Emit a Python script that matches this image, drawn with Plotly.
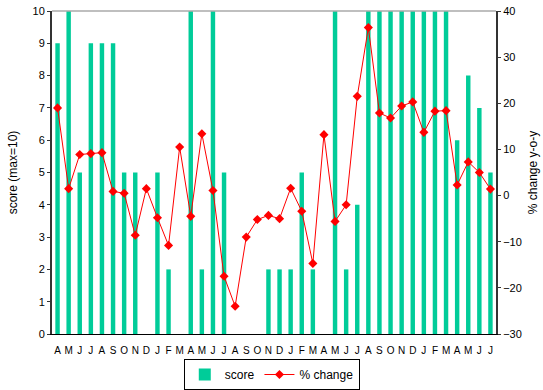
import plotly.graph_objects as go

# Month initials, April through July three years later
months = ["A", "M", "J", "J", "A", "S", "O", "N", "D", "J", "F", "M",
          "A", "M", "J", "J", "A", "S", "O", "N", "D", "J", "F", "M",
          "A", "M", "J", "J", "A", "S", "O", "N", "D", "J", "F", "M",
          "A", "M", "J", "J"]

# Monthly score (max = 10); None = no score recorded
score = [9, 10, 5, 9, 9, 9, 5, 5, None, 5, 2, None,
         10, 2, 10, 5, None, None, None, 2, 2, 2, 5, 2,
         None, 10, 2, 4, 10, 10, 10, 10, 10, 10, 10, 10,
         6, 8, 7, 5]

# Year-over-year % change
pct_change = [19.0, 1.5, 8.9, 9.1, 9.3, 0.9, 0.5, -8.6, 1.5, -4.8, -10.8, 10.5,
              -4.5, 13.4, 1.1, -17.5, -24.0, -9.0, -5.2, -4.3, -5.0, 1.6, -3.4, -14.7,
              13.2, -5.6, -2.0, 21.5, 36.4, 17.9, 16.8, 19.4, 20.3, 13.7, 18.3, 18.4,
              2.3, 7.3, 5.0, 1.4]

x = list(range(len(months)))
boundaries = [i - 0.5 for i in range(len(months) + 1)]
xr = [-0.5, len(months) - 0.5]

FONT = "Arial, Liberation Sans, sans-serif"
AXIS = "#333333"

fig = go.Figure()
fig.add_trace(go.Bar(x=x, y=score, name="score", marker_color="#00CC99",
                     marker_line_width=0, yaxis="y"))
fig.add_trace(go.Scatter(x=x, y=pct_change, name="% change", yaxis="y2",
                         mode="lines+markers",
                         line=dict(color="#FF0000", width=1),
                         marker=dict(symbol="diamond", size=7, color="#FF0000")))

common_y = dict(showgrid=False, zeroline=False, showline=True, linecolor=AXIS,
                linewidth=2, tickcolor=AXIS, tickfont=dict(size=11, color="#000"),
                automargin=False)

fig.update_layout(
    width=543, height=390,
    margin=dict(l=52, r=47, t=11, b=56, autoexpand=False),
    paper_bgcolor="white", plot_bgcolor="white",
    font=dict(family=FONT, size=11, color="#000"),
    bargap=0.6,
    showlegend=True,
    legend=dict(orientation="h", x=0.495, xanchor="center",
                yref="container", y=0.0, yanchor="bottom",
                bordercolor="#000", borderwidth=1, font=dict(size=12),
                itemwidth=30, tracegroupgap=0),
    xaxis=dict(range=xr, tickmode="array", tickvals=x, ticktext=months, ticks="",
               showgrid=False, zeroline=False, showline=True, linecolor="#000",
               linewidth=1, tickfont=dict(size=10), automargin=False,
               ticklabelstandoff=7),
    xaxis2=dict(range=xr, overlaying="x", anchor="y", side="bottom", tickmode="array",
                tickvals=boundaries, ticks="outside", ticklen=3, tickcolor="#000",
                showticklabels=False, showgrid=False, zeroline=False, automargin=False),
    xaxis3=dict(range=xr, overlaying="x", anchor="y", side="bottom", tickmode="array",
                tickvals=boundaries, ticks="inside", ticklen=3, tickcolor="#000",
                showticklabels=False, showgrid=False, zeroline=False, automargin=False),
    yaxis=dict(range=[0, 10], dtick=1, ticks="outside", ticklen=3,
               title=dict(text="score (max=10)", font=dict(size=12), standoff=12),
               **common_y),
    yaxis2=dict(range=[-30, 40], dtick=10, ticks="outside", ticklen=3,
                overlaying="y", side="right", anchor="x",
                title=dict(text="% change y-o-y", font=dict(size=12), standoff=8),
                **common_y),
    yaxis3=dict(range=[0, 10], dtick=1, ticks="inside", ticklen=3, overlaying="y",
                side="left", anchor="x", showticklabels=False, **common_y),
    yaxis4=dict(range=[-30, 40], dtick=10, ticks="inside", ticklen=3, overlaying="y",
                side="right", anchor="x", showticklabels=False, **common_y),
    shapes=[dict(type="line", xref="paper", yref="paper", x0=0, x1=1, y0=1, y1=1,
                 line=dict(color="#AAAAAA", width=1.5))],
)

fig.write_html("out.html")
